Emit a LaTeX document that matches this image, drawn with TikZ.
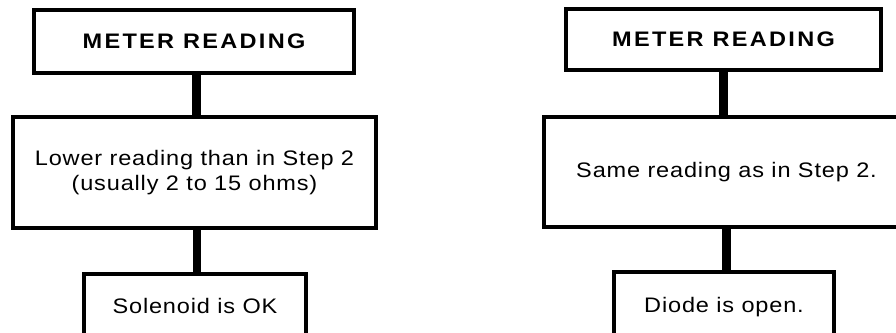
\documentclass[tikz,border=0pt]{standalone}
\usepackage{fontspec}
\setmainfont{Liberation Sans}
\newfontfamily\bodyfont{Liberation Sans}[FakeStretch=1.12,LetterSpace=4]
\newfontfamily\headfont{Liberation Sans Bold}[FakeStretch=1.12,LetterSpace=11]
\tikzset{
  box/.style={draw=black, line width=4pt, fill=white, inner sep=0pt, align=center,
    font=\bodyfont\fontsize{21}{25}\selectfont},
  headbox/.style={box, font=\headfont\fontsize{21}{25}\selectfont},
  conn/.style={draw=black, line width=8.5pt},
}
\begin{document}
\begin{tikzpicture}[x=1pt,y=-1pt]
\clip (0,0) rectangle (896,332);
\fill[white] (0,0) rectangle (896,332);
% left column
\node[headbox, minimum width=320pt, minimum height=63.5pt] (lt) at (194,41.25) {METER READING};
\node[box, minimum width=363pt, minimum height=111pt] (lm) at (194.5,172.5) {Lower reading than in Step 2\\(usually 2 to 15 ohms)};
\node[box, minimum width=222pt, anchor=north, text height=39pt, text depth=40pt] (lb) at (195,272) {Solenoid is OK};
% right column
\node[headbox, minimum width=314.4pt, minimum height=61pt] (rt) at (723.5,39.2) {METER READING};
\node[box, minimum width=365pt, minimum height=110pt] (rm) at (726.5,172) {Same reading as in Step 2.};
\node[box, minimum width=220pt, anchor=north, text height=40.5pt, text depth=40pt] (rb) at (724,270.3) {Diode is open.};
% connectors
\draw[conn] ([xshift=2.5pt]lt.south) -- ([xshift=2.5pt]lt.south |- lm.north);
\draw[conn] ([xshift=2.5pt]lm.south) -- ([xshift=2.5pt]lm.south |- lb.north);
\draw[conn] (rt.south) -- (rt.south |- rm.north);
\draw[conn] (rm.south) -- (rm.south |- rb.north);
\end{tikzpicture}
\end{document}
